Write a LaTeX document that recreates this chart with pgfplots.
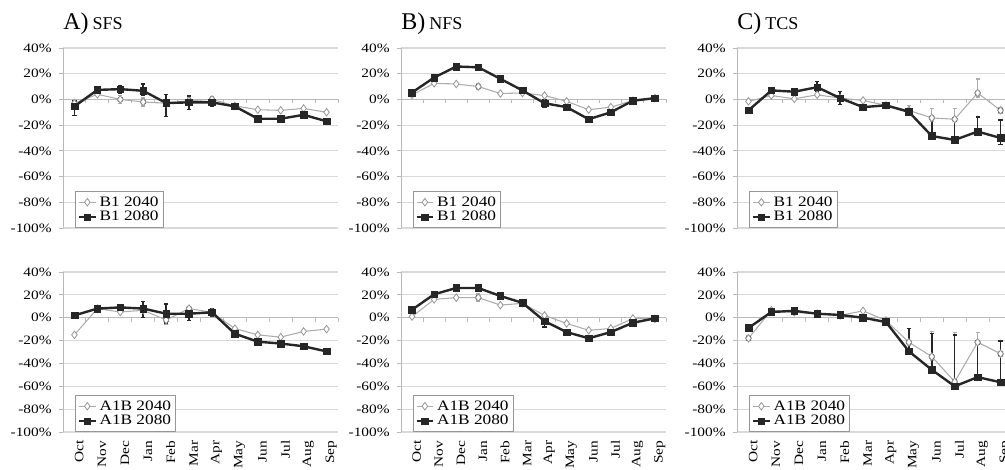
\documentclass[border=0pt]{standalone}
\usepackage{pgfplots}
\pgfplotsset{compat=1.18}
\usepackage{fontspec}
\setmainfont{Liberation Serif}
\newfontfamily\tickfont{Liberation Serif}[FakeStretch=1.2]
\definecolor{gridc}{RGB}{217,217,217}
\definecolor{axc}{RGB}{185,185,185}
\definecolor{lgray}{RGB}{172,172,172}
\definecolor{dgray}{RGB}{150,150,150}
\definecolor{blk}{RGB}{38,38,38}
\pgfplotsset{
  panel/.style={
    scale only axis, width=206.25pt,
    xmin=-0.5, xmax=11.5, ymin=-100, ymax=40,
    ytick={-100,-80,-60,-40,-20,0,20,40},
    yticklabels={-100\%,-80\%,-60\%,-40\%,-20\%,0\%,20\%,40\%},
    xtick={0,...,11},
    axis lines*=left,
    x axis line style={draw=none},
    y axis line style={draw=axc, line width=0.7pt, -},
    ymajorgrids, grid style={draw=gridc, line width=0.8pt},
    ytick style={draw=axc, line width=0.7pt},
    xtick style={draw=none},
    tick align=outside, major tick length=3pt,
    tick label style={font=\tickfont\fontsize{9.6}{10}\selectfont},
    yticklabel style={xshift=-2pt},
    clip=false,
    legend style={at={(0.045,0)}, anchor=south west, draw=dgray, line width=0.6pt,
      font=\tickfont\fontsize{10.8}{11}\selectfont, inner sep=1.5pt, row sep=-1.5pt, cells={anchor=west}},
    legend image code/.code={\draw[mark repeat=2, mark phase=2] plot coordinates {(0cm,0cm) (0.22cm,0cm) (0.44cm,0cm)};},
  },
  toprow/.style={panel, height=135pt, xticklabels={}},
  botrow/.style={panel, height=120pt,
    xticklabels={Oct,Nov,Dec,Jan,Feb,Mar,Apr,May,Jun,Jul,Aug,Sep},
    xticklabel style={rotate=90, anchor=east, yshift=-3.5pt}},
  s40/.style={color=lgray, line width=0.8pt, mark=diamond*, mark size=2.8pt,
    mark options={fill=white, draw=dgray, line width=0.6pt}},
  s80/.style={color=blk, line width=1.8pt, mark=square*, mark size=2.5pt,
    mark options={fill=blk, draw=blk, line width=0.4pt}},
  e40/.style={forget plot, only marks, mark=none, error bars/.cd, y dir=both, y explicit,
    error bar style={line width=1pt, draw=lgray}, error mark options={rotate=90, mark size=1.6pt, draw=lgray, line width=1pt}},
  e80/.style={forget plot, only marks, mark=none, error bars/.cd, y dir=both, y explicit,
    error bar style={line width=1.1pt, draw=blk}, error mark options={rotate=90, mark size=1.6pt, draw=blk, line width=1.1pt}},
}
\newcommand{\zeroticks}{\pgfplotsinvokeforeach{0.5,1.5,2.5,3.5,4.5,5.5,6.5,7.5,8.5,9.5,10.5,11.5}{\draw[axc, line width=0.7pt] (axis cs:##1,0) -- ([yshift=-3pt]axis cs:##1,0);}
  \draw[axc, line width=0.8pt] (axis cs:-0.5,0) -- (axis cs:11.5,0);}
\begin{document}
\begin{tikzpicture}
\useasboundingbox (0pt,0pt) rectangle (753.75pt,352.5pt);
% titles
\node[anchor=base west, inner sep=0pt] at (47.25pt,330pt) {\fontsize{18}{18}\selectfont A)\,\fontsize{13.5}{13.5}\selectfont SFS};
\node[anchor=base west, inner sep=0pt] at (300.75pt,330pt) {\fontsize{18}{18}\selectfont B)\,\fontsize{13.5}{13.5}\selectfont NFS};
\node[anchor=base west, inner sep=0pt] at (552.75pt,330pt) {\fontsize{18}{18}\selectfont C)\,\fontsize{13.5}{13.5}\selectfont TCS};

% ---------- A top
\begin{axis}[toprow, at={(47.25pt,316.5pt)}, anchor=north west]
\zeroticks
\addplot[e40] coordinates {(2,0) +- (0,3) (3,-2) +- (0,3) (5,-1) +- (0,2.5) (6,0) +- (0,2)};
\addplot[s40] coordinates {(0,-3) (1,4) (2,0) (3,-2) (4,-3) (5,-1) (6,0) (7,-5) (8,-8) (9,-8.5) (10,-7) (11,-10)};
\addlegendentry{B1 2040}
\addplot[e80] coordinates {(0,-5.4) += (0,4) -= (0,7) (2,8) +- (0,3) (3,6.7) += (0,5.3) -= (0,3.5) (4,-2.8) += (0,6.6) -= (0,10.5) (5,-2.3) += (0,5) -= (0,5.6) (6,-2.3) +- (0,3)};
\addplot[s80] coordinates {(0,-5.4) (1,7.4) (2,8) (3,6.7) (4,-2.8) (5,-2.3) (6,-2.3) (7,-5.4) (8,-15) (9,-15) (10,-12) (11,-17)};
\addlegendentry{B1 2080}
\end{axis}

% ---------- B top
\begin{axis}[toprow, width=198.75pt, at={(300.75pt,316.5pt)}, anchor=north west]
\zeroticks
\addplot[e40] coordinates {(3,10) +- (0,2)};
\addplot[s40] coordinates {(0,3.5) (1,12.5) (2,12) (3,10) (4,4.6) (5,5) (6,3) (7,-1.5) (8,-8) (9,-6) (10,-1) (11,1)};
\addlegendentry{B1 2040}
\addplot[e80] coordinates {(6,-3) +- (0,3)};
\addplot[s80] coordinates {(0,5.4) (1,17) (2,25.6) (3,25) (4,16) (5,7) (6,-3) (7,-6) (8,-15.4) (9,-10) (10,-1) (11,1)};
\addlegendentry{B1 2080}
\end{axis}

% ---------- C top
\begin{axis}[toprow, at={(552.75pt,316.5pt)}, anchor=north west]
\zeroticks
\addplot[e40] coordinates {(7,-8.5) += (0,4) -= (0,1) (8,-14.4) += (0,7.4) -= (0,3) (9,-15.4) += (0,8.4) -= (0,1) (10,5) += (0,11) -= (0,3) (11,-8.5) +- (0,2)};
\addplot[s40] coordinates {(0,-1.5) (1,3) (2,0.5) (3,3.6) (4,1) (5,-0.8) (6,-4.6) (7,-8.5) (8,-14.4) (9,-15.4) (10,5) (11,-8.5)};
\addlegendentry{B1 2040}
\addplot[e80] coordinates {(3,9.5) += (0,4.5) -= (0,3) (4,1) +- (0,5) (8,-28.5) += (0,14) -= (0,2) (9,-31.5) += (0,15) -= (0,1) (10,-25) += (0,11.5) -= (0,2) (11,-30) += (0,14) -= (0,5)};
\addplot[s80] coordinates {(0,-8.5) (1,7) (2,6) (3,9.5) (4,1) (5,-6) (6,-4.6) (7,-9.7) (8,-28.5) (9,-31.5) (10,-25) (11,-30)};
\addlegendentry{B1 2080}
\end{axis}

% ---------- A bottom
\begin{axis}[botrow, at={(47.25pt,148.5pt)}, anchor=north west]
\zeroticks
\addplot[e40] coordinates {(4,-2) +- (0,4) (5,8) +- (0,2)};
\addplot[s40] coordinates {(0,-15) (1,8) (2,5) (3,6.5) (4,-2) (5,8) (6,4.7) (7,-9.5) (8,-15) (9,-17) (10,-12) (11,-10)};
\addlegendentry{A1B 2040}
\addplot[e80] coordinates {(3,8) += (0,6) -= (0,8) (4,3.5) += (0,8.3) -= (0,8) (5,3.5) += (0,4.5) -= (0,6) (6,4.7) +- (0,3)};
\addplot[s80] coordinates {(0,2) (1,8) (2,9) (3,8) (4,3.5) (5,3.5) (6,4.7) (7,-14) (8,-21) (9,-22.6) (10,-25) (11,-29.5)};
\addlegendentry{A1B 2080}
\end{axis}

% ---------- B bottom
\begin{axis}[botrow, width=198.75pt, at={(300.75pt,148.5pt)}, anchor=north west]
\zeroticks
\addplot[e40] coordinates {(3,17.6) +- (0,3)};
\addplot[s40] coordinates {(0,1) (1,16) (2,17.6) (3,17.6) (4,11) (5,12.6) (6,2) (7,-5) (8,-11) (9,-9.4) (10,-0.6) (11,-1)};
\addlegendentry{A1B 2040}
\addplot[e80] coordinates {(6,-3) += (0,2) -= (0,5)};
\addplot[s80] coordinates {(0,7) (1,20.5) (2,26) (3,26) (4,19) (5,13) (6,-3) (7,-12.6) (8,-18) (9,-12.6) (10,-4.4) (11,-0.6)};
\addlegendentry{A1B 2080}
\end{axis}

% ---------- C bottom
\begin{axis}[botrow, at={(552.75pt,148.5pt)}, anchor=north west]
\zeroticks
\addplot[e40] coordinates {(0,-18) +- (0,2) (7,-21.5) += (0,12) -= (0,3) (8,-34) += (0,22) -= (0,3) (9,-56) += (0,43) -= (0,1) (10,-21.5) += (0,8.5) -= (0,2) (11,-31.5) += (0,11.5) -= (0,2)};
\addplot[s40] coordinates {(0,-18) (1,6.5) (2,4.7) (3,3.5) (4,2) (5,6) (6,-2.4) (7,-21.5) (8,-34) (9,-56) (10,-21.5) (11,-31.5)};
\addlegendentry{A1B 2040}
\addplot[e80] coordinates {(7,-29.4) += (0,20) -= (0,3) (8,-45.6) += (0,32) -= (0,1) (9,-60) += (0,45) -= (0,1) (10,-52) += (0,31) -= (0,1) (11,-56.5) += (0,36) -= (0,1)};
\addplot[s80] coordinates {(0,-9) (1,5) (2,6) (3,3.5) (4,2.4) (5,0) (6,-3.8) (7,-29.4) (8,-45.6) (9,-60) (10,-52) (11,-56.5)};
\addlegendentry{A1B 2080}
\end{axis}
\end{tikzpicture}
\end{document}
